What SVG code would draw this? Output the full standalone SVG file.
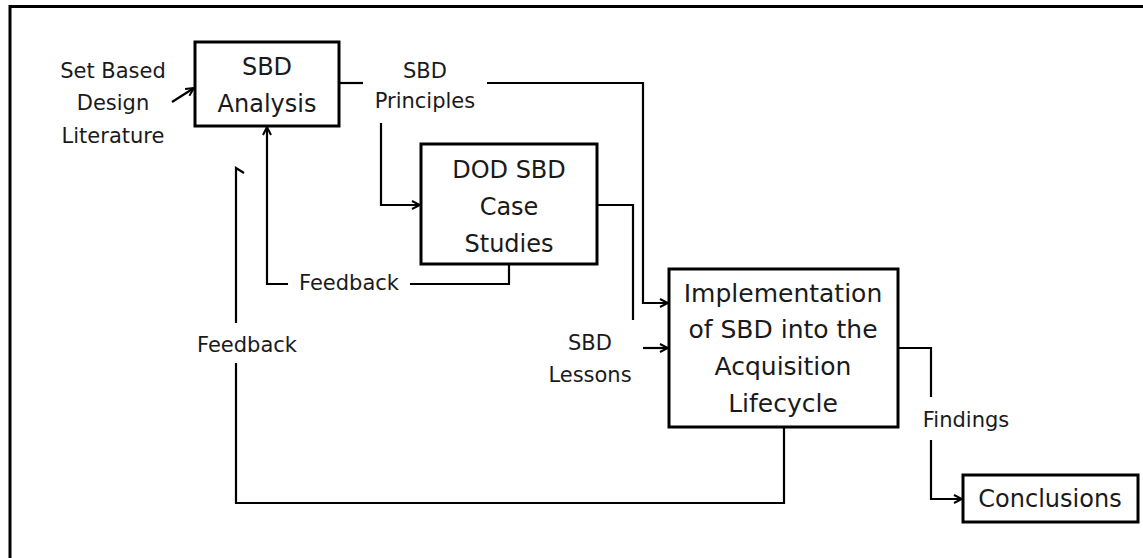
<svg xmlns="http://www.w3.org/2000/svg" width="1143" height="558" viewBox="0 0 1143 558">
<style>
text{font-family:"DejaVu Sans","Liberation Sans",sans-serif;fill:#1a1a1a;text-anchor:middle}
.lbl{font-size:21px}
.n{font-size:24px}
.box{fill:#fff;stroke:#000;stroke-width:3}
.c{fill:none;stroke:#000;stroke-width:2.2}
</style>
<defs>
<marker id="ah" viewBox="0 0 10 10" refX="9" refY="5" markerWidth="10" markerHeight="10" markerUnits="userSpaceOnUse" orient="auto">
<path d="M1,1 L9,5 L1,9" fill="none" stroke="#000" stroke-width="2"/>
</marker>
</defs>
<rect width="1143" height="558" fill="#fff"/>
<path d="M10,558 V6.5 H1143" fill="none" stroke="#000" stroke-width="3"/>
<g id="connectors">
<path class="c" d="M172,102 L194,88" marker-end="url(#ah)"/>
<path class="c" d="M339,83 H363" stroke-width="3.2"/>
<path class="c" d="M487,83 H643 V303 H668" marker-end="url(#ah)"/>
<path class="c" d="M381,123 V205 H420" marker-end="url(#ah)"/>
<path class="c" d="M597,205 H633 V320"/>
<path class="c" d="M643,348 H668" marker-end="url(#ah)"/>
<path class="c" d="M509,264 V284 H410"/>
<path class="c" d="M288,284 H267 V127" marker-end="url(#ah)"/>
<path class="c" d="M898,348 H931 V397"/>
<path class="c" d="M931,440 V499 H962" marker-end="url(#ah)"/>
<path class="c" d="M784,427 V503 H236 V363"/>
<path class="c" d="M236,323 V168 L244,173"/>
</g>
<g id="set-based-design-literature">
<text class="lbl" x="113" y="78">Set Based</text>
<text class="lbl" x="113" y="110">Design</text>
<text class="lbl" x="113" y="143">Literature</text>
</g>
<g id="sbd-analysis">
<rect class="box" x="195" y="42" width="144" height="84"/>
<text class="n" x="267" y="75" font-size="23">SBD</text>
<text class="n" x="267" y="112" font-size="23">Analysis</text>
</g>
<g id="sbd-principles">
<text class="lbl" x="425" y="78">SBD</text>
<text class="lbl" x="425" y="108">Principles</text>
</g>
<g id="dod-sbd-case-studies">
<rect class="box" x="421" y="144" width="176" height="120"/>
<text class="n" x="509" y="178">DOD SBD</text>
<text class="n" x="509" y="215">Case</text>
<text class="n" x="509" y="252">Studies</text>
</g>
<g id="feedback-1">
<text class="lbl" x="349" y="290">Feedback</text>
</g>
<g id="feedback-2">
<text class="lbl" x="247" y="352">Feedback</text>
</g>
<g id="sbd-lessons">
<text class="lbl" x="590" y="350">SBD</text>
<text class="lbl" x="590" y="382">Lessons</text>
</g>
<g id="implementation">
<rect class="box" x="669" y="269" width="229" height="158"/>
<text class="n" x="783" y="302" style="font-size:25px">Implementation</text>
<text class="n" x="783" y="338" style="font-size:25px">of SBD into the</text>
<text class="n" x="783" y="375" style="font-size:25px">Acquisition</text>
<text class="n" x="783" y="412" style="font-size:25px">Lifecycle</text>
</g>
<g id="findings">
<text class="lbl" x="966" y="427">Findings</text>
</g>
<g id="conclusions">
<rect class="box" x="963" y="475" width="175" height="47"/>
<text class="n" x="1050" y="507">Conclusions</text>
</g>
</svg>
